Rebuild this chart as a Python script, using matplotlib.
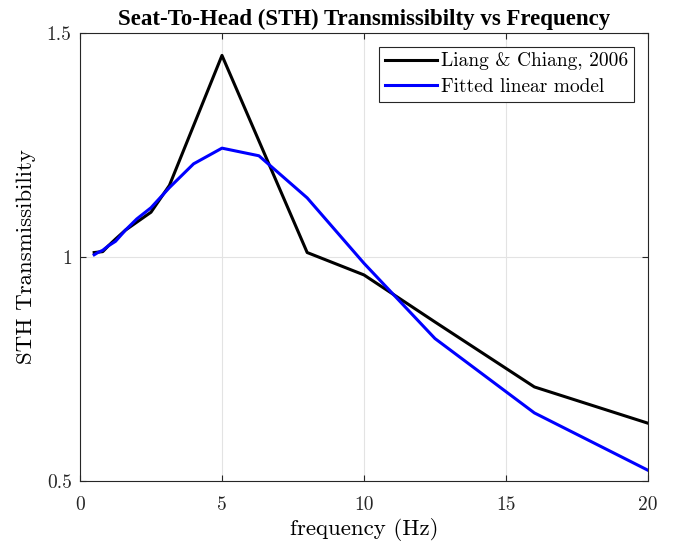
import matplotlib
matplotlib.use('Agg')
from matplotlib import pyplot as plt

# 1/3-octave frequencies (Hz)
freq_ref = [0.5, 0.8, 1.0, 1.25, 1.6, 2.5, 3.15, 5.0, 8.0, 10.0, 12.5, 16.0, 20.0]
sth_ref = [1.01, 1.012, 1.025, 1.04, 1.06, 1.10, 1.16, 1.45, 1.01, 0.96, 0.855, 0.71, 0.629]

freq_fit = [0.5, 0.63, 0.8, 1.0, 1.25, 1.6, 2.0, 2.5, 3.15, 4.0, 5.0, 6.3, 8.0, 10.0, 12.5, 16.0, 20.0]
sth_fit = [1.005, 1.01, 1.015, 1.025, 1.035, 1.06, 1.085, 1.11, 1.155, 1.208, 1.243, 1.226,
           1.132, 0.986, 0.818, 0.652, 0.524]

x_ticks = [0, 5, 10, 15, 20]
y_ticks = [0.5, 1, 1.5]

plt.rcParams['font.family'] = ['Liberation Serif', 'DejaVu Serif']
cm_font = ['cmr10', 'DejaVu Serif']

fig = plt.figure(figsize=(6.79, 5.44), dpi=100)
ax = fig.add_axes([0.1178, 0.1158, 0.8365, 0.8235])

ax.plot(freq_ref, sth_ref, color='black', lw=2.2, label='Liang & Chiang, 2006')
ax.plot(freq_fit, sth_fit, color='#0000ff', lw=2.2, label='Fitted linear model')

ax.set_xlim(0, 20)
ax.set_ylim(0.5, 1.5)
ax.set_xticks(x_ticks)
ax.set_yticks(y_ticks)
ax.set_xticklabels([str(t) for t in x_ticks], family=cm_font)
ax.set_yticklabels(['0.5', '1', '1.5'], family=cm_font)
ax.grid(True, color='#e3e3e3', lw=0.8)
ax.set_axisbelow(True)
ax.tick_params(direction='in', top=True, right=True, labelsize=14, length=4,
               color='#262626', labelcolor='#262626', pad=6)
ax.tick_params(axis='x', pad=11)
for s in ax.spines.values():
    s.set_color('#262626')
    s.set_linewidth(0.8)

ax.set_xlabel('frequency (Hz)', fontsize=16.5, labelpad=2.5, family=cm_font)
ax.set_ylabel('STH Transmissibility', fontsize=16.5, labelpad=8, family=cm_font)
ax.set_title('Seat-To-Head (STH) Transmissibilty vs Frequency', fontsize=16.5,
             fontweight='bold', pad=5.5)

leg = ax.legend(loc='upper right', prop={'family': cm_font, 'size': 14}, fancybox=False,
                framealpha=1, edgecolor='#262626', borderpad=0.3, handlelength=2.7,
                handletextpad=0.2, labelspacing=0.4, borderaxespad=0.7)
leg.get_frame().set_linewidth(0.8)

fig.savefig('out.png', dpi=100)
